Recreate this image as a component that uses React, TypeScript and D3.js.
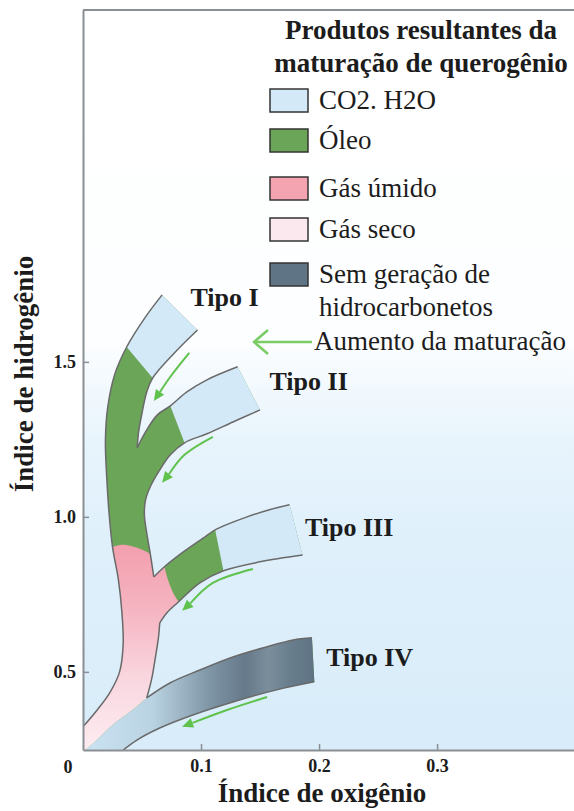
import React, { useEffect, useRef } from 'react'
import * as d3 from 'd3'

type Pt = [number, number] // [índice de oxigênio, índice de hidrogênio]

// band edges
const trunkOuter: Pt[] = [
  [0.067, 1.716], [0.053, 1.645], [0.037, 1.548], [0.027, 1.461], [0.021, 1.355],
  [0.019, 1.248], [0.020, 1.135], [0.022, 1.016], [0.025, 0.903], [0.030, 0.797],
  [0.033, 0.690], [0.034, 0.587], [0.031, 0.5], [0.023, 0.435], [0.012, 0.377], [0.0, 0.323],
]
const tipoIInner: Pt[] = [[0.097, 1.603], [0.079, 1.535], [0.059, 1.448], [0.054, 1.403], [0.05, 1.335], [0.047, 1.271], [0.046, 1.223]]
const tipoIIUpper: Pt[] = [[0.046, 1.223], [0.053, 1.274], [0.063, 1.329], [0.074, 1.358], [0.088, 1.403], [0.105, 1.442], [0.131, 1.484]]
const tipoIILower: Pt[] = [
  [0.15, 1.345], [0.127, 1.306], [0.105, 1.268], [0.086, 1.239], [0.074, 1.2], [0.064, 1.145],
  [0.057, 1.097], [0.053, 1.055], [0.052, 1.006], [0.054, 0.948], [0.057, 0.881], [0.06, 0.806],
]
const tipoIIIUpper: Pt[] = [[0.06, 0.806], [0.069, 0.839], [0.085, 0.887], [0.102, 0.932], [0.112, 0.958], [0.139, 1.0], [0.158, 1.023], [0.175, 1.039]]
const tipoIIILower: Pt[] = [[0.186, 0.877], [0.15, 0.855], [0.119, 0.826], [0.099, 0.787], [0.081, 0.726], [0.071, 0.69], [0.065, 0.658]]
const trunkInner: Pt[] = [[0.065, 0.658], [0.064, 0.613], [0.061, 0.539], [0.058, 0.474], [0.054, 0.416]]
const tipoIVUpper: Pt[] = [[0.054, 0.416], [0.074, 0.465], [0.099, 0.506], [0.127, 0.548], [0.156, 0.581], [0.178, 0.603], [0.194, 0.61]]
const tipoIVLower: Pt[] = [[0.196, 0.468], [0.164, 0.442], [0.127, 0.403], [0.093, 0.361], [0.065, 0.319], [0.046, 0.281], [0.034, 0.248]]

// boundaries between products
const wetGasTop: Pt[] = [[0.025, 0.903], [0.034, 0.91], [0.046, 0.9], [0.057, 0.881]]
const wetGasTipoIII: Pt[] = [[0.069, 0.839], [0.072, 0.797], [0.076, 0.758], [0.081, 0.726]]
const dryGasSplit: Pt[] = [[0.054, 0.416], [0.04, 0.371], [0.025, 0.329], [0.012, 0.281], [0.002, 0.248]]
const axisFloor: Pt[] = [[0.0, 0.248], [0.034, 0.248]]

// "aumento da maturação" arrows
const maturationPaths: Pt[][] = [
  [[0.09, 1.529], [0.074, 1.452], [0.06, 1.374]],
  [[0.11, 1.258], [0.086, 1.2], [0.067, 1.11]],
  [[0.144, 0.832], [0.11, 0.787], [0.084, 0.697]],
  [[0.156, 0.419], [0.122, 0.377], [0.084, 0.323]],
]

const tipoNames = ['Tipo I', 'Tipo II', 'Tipo III', 'Tipo IV']
const tipoAnchors: Pt[] = [[0.091, 1.681], [0.158, 1.41], [0.188, 0.939], [0.206, 0.519]]

const xTicks = [0.1, 0.2, 0.3]
const yTicks = [0.5, 1.0, 1.5]

const legendTitle = ['Produtos resultantes da', 'maturação de querogênio']
const legendItems = ['CO2. H2O', 'Óleo', 'Gás úmido', 'Gás seco', 'Sem geração de']
const legendItem2 = 'hidrocarbonetos'
const maturationLabel = 'Aumento da maturação'

const COL = {
  co2: '#d3e9f8',
  oil: '#6ba557',
  wet: '#f4a3b1',
  dry: '#fbe7ee',
  none: '#5f7585',
  edge: '#6a6a6a',
  arrow: '#5fc24c',
  axis: '#8a8f94',
  text: '#1c1c1c',
}
const legendColors = [COL.co2, COL.oil, COL.wet, COL.dry, COL.none]
const FONT = "'Liberation Serif', 'Times New Roman', serif"

const App = () => {
  const ref = useRef<SVGSVGElement>(null)

  useEffect(() => {
    const svg = d3.select(ref.current)
    svg.selectAll('*').remove()

    const x = d3.scaleLinear().domain([0, 0.416]).range([83, 574])
    const y = d3.scaleLinear().domain([0.248, 2.635]).range([750, 10])

    const smooth = d3.line<Pt>().x(d => x(d[0])).y(d => y(d[1])).curve(d3.curveCatmullRom.alpha(0.5))
    const join = (...parts: Pt[][]) =>
      parts.map((p, i) => { const s = smooth(p) || ''; return i ? s.replace(/^M/, 'L') : s }).join('') + 'Z'
    const rev = (a: Pt[]) => a.slice().reverse()

    const defs = svg.append('defs')
    const bg = defs.append('linearGradient').attr('id', 'bg').attr('gradientUnits', 'userSpaceOnUse')
      .attr('x1', 0).attr('y1', 10).attr('x2', 0).attr('y2', 750)
    ;[[0, '#ffffff'], [0.44, '#fdfeff'], [0.58, '#e8f4fc'], [0.72, '#dff0fb'], [1, '#d8ecf9']].forEach(([o, c]) =>
      bg.append('stop').attr('offset', o).attr('stop-color', c))
    const pink = defs.append('linearGradient').attr('id', 'pink').attr('gradientUnits', 'userSpaceOnUse')
      .attr('x1', 0).attr('y1', y(0.91)).attr('x2', 0).attr('y2', y(0.25))
    ;[[0, '#f39fae'], [0.3, '#f5b3c0'], [0.65, '#f9d6df'], [1, '#fdecf1']].forEach(([o, c]) =>
      pink.append('stop').attr('offset', o).attr('stop-color', c))
    const slate = defs.append('linearGradient').attr('id', 'slate').attr('gradientUnits', 'userSpaceOnUse')
      .attr('x1', x(0)).attr('y1', 0).attr('x2', x(0.196)).attr('y2', 0)
    ;[[0, '#cbe3f2'], [0.3, '#bad3e2'], [0.55, '#7e95a5'], [0.7, '#66798a'], [0.8, '#7a8e9c'], [0.9, '#687d8c'], [1, '#5e7283']]
      .forEach(([o, c]) => slate.append('stop').attr('offset', o).attr('stop-color', c))
    defs.append('clipPath').attr('id', 'plot').append('rect')
      .attr('x', 83).attr('y', 10).attr('width', 491).attr('height', 740)

    svg.append('rect').attr('x', 83).attr('y', 10).attr('width', 491).attr('height', 740).attr('fill', 'url(#bg)')

    const g = svg.append('g').attr('clip-path', 'url(#plot)')

    // whole kerogen path, oil colour underneath
    g.append('path').attr('fill', COL.oil).attr('d', join(
      trunkOuter, axisFloor, rev(tipoIVLower), rev(tipoIVUpper), rev(trunkInner), rev(tipoIIILower),
      rev(tipoIIIUpper), rev(tipoIILower), rev(tipoIIUpper), rev(tipoIInner)))

    // CO2, H2O at the start of each path
    g.append('path').attr('fill', COL.co2).attr('d', join(trunkOuter.slice(0, 3), rev(tipoIInner.slice(0, 3))))
    g.append('path').attr('fill', COL.co2).attr('d', join(tipoIIUpper.slice(3), tipoIILower.slice(0, 4)))
    g.append('path').attr('fill', COL.co2).attr('d', join(tipoIIIUpper.slice(4), tipoIIILower.slice(0, 3)))

    // gas
    g.append('path').attr('fill', 'url(#pink)').attr('d', join(
      wetGasTop, tipoIILower.slice(10), tipoIIIUpper.slice(0, 2), wetGasTipoIII, tipoIIILower.slice(4),
      trunkInner, dryGasSplit, axisFloor.slice(0, 1).concat([[0.0, 0.27]]), rev(trunkOuter.slice(8))))

    // tipo IV
    g.append('path').attr('fill', 'url(#slate)').attr('d', join(tipoIVUpper, tipoIVLower, rev(dryGasSplit)))

    ;[trunkOuter, tipoIInner, tipoIIUpper, tipoIILower, tipoIIIUpper, tipoIIILower, trunkInner, tipoIVUpper, tipoIVLower]
      .forEach(e => g.append('path').attr('d', smooth(e)).attr('fill', 'none')
        .attr('stroke', COL.edge).attr('stroke-width', 1.5))

    maturationPaths.forEach(pts => {
      const s = pts.map(p => [x(p[0]), y(p[1])] as [number, number])
      const [x1, y1] = s[s.length - 2]
      const [x2, y2] = s[s.length - 1]
      const len = Math.hypot(x2 - x1, y2 - y1)
      const ux = (x2 - x1) / len, uy = (y2 - y1) / len
      const bx = x2 - ux * 11, by = y2 - uy * 11
      const shaft = [...s.slice(0, -1), [bx, by] as [number, number]]
      g.append('path').attr('d', d3.line().curve(d3.curveCatmullRom)(shaft))
        .attr('fill', 'none').attr('stroke', COL.arrow).attr('stroke-width', 2)
      g.append('path').attr('fill', COL.arrow)
        .attr('d', `M${x2},${y2}L${bx - uy * 5},${by + ux * 5}L${bx + uy * 5},${by - ux * 5}Z`)
    })

    // axes
    const styleAxis = sel => {
      sel.attr('font-family', FONT).attr('font-size', 18).attr('font-weight', 'bold')
      sel.select('.domain').attr('stroke', COL.axis).attr('stroke-width', 2)
      sel.selectAll('.tick line').attr('stroke', COL.axis).attr('stroke-width', 1.5)
      sel.selectAll('.tick text').attr('fill', COL.text)
    }
    svg.append('g').attr('transform', 'translate(83,0)')
      .call(d3.axisLeft(y).tickValues(yTicks).tickSize(-6).tickSizeOuter(0).tickPadding(7).tickFormat(d3.format('.1f')))
      .call(styleAxis)
    svg.append('g').attr('transform', 'translate(0,750)')
      .call(d3.axisBottom(x).tickValues(xTicks).tickSize(-6).tickSizeOuter(0).tickPadding(9).tickFormat(d3.format('.1f')))
      .call(styleAxis)
    svg.append('line').attr('x1', 83).attr('x2', 574).attr('y1', 10).attr('y2', 10)
      .attr('stroke', COL.axis).attr('stroke-width', 2)
    svg.append('text').text('0').attr('x', x(0) - 15).attr('y', 773).attr('text-anchor', 'middle')
      .attr('font-family', FONT).attr('font-size', 18).attr('font-weight', 'bold').attr('fill', COL.text)

    svg.append('text').text('Índice de oxigênio').attr('x', 322).attr('y', 802).attr('text-anchor', 'middle')
      .attr('font-family', FONT).attr('font-size', 27).attr('font-weight', 'bold').attr('fill', COL.text)
    svg.append('text').text('Índice de hidrogênio').attr('transform', 'translate(33,374) rotate(-90)')
      .attr('text-anchor', 'middle')
      .attr('font-family', FONT).attr('font-size', 27).attr('font-weight', 'bold').attr('fill', COL.text)

    tipoNames.forEach((t, i) => {
      svg.append('text').text(t).attr('x', x(tipoAnchors[i][0])).attr('y', y(tipoAnchors[i][1]))
        .attr('font-family', FONT).attr('font-size', 26).attr('font-weight', 'bold').attr('fill', COL.text)
    })

    // legend
    const lg = svg.append('g').attr('font-family', FONT).attr('fill', COL.text)
    legendTitle.forEach((t, i) => lg.append('text').text(t).attr('x', 421).attr('y', 39 + i * 33)
      .attr('text-anchor', 'middle').attr('font-size', 27).attr('font-weight', 'bold'))
    const rowTop = [89, 129, 177, 218, 263]
    legendItems.forEach((t, i) => {
      lg.append('rect').attr('x', 270).attr('y', rowTop[i]).attr('width', 38).attr('height', 23)
        .attr('fill', legendColors[i]).attr('stroke', '#333').attr('stroke-width', 1.5)
      lg.append('text').text(t).attr('x', 319).attr('y', rowTop[i] + 20).attr('font-size', 27)
    })
    lg.append('text').text(legendItem2).attr('x', 319).attr('y', 316).attr('font-size', 27)
    lg.append('line').attr('x1', 255).attr('x2', 312).attr('y1', 342).attr('y2', 342)
      .attr('stroke', '#7acc65').attr('stroke-width', 2.5)
    lg.append('path').attr('d', 'M268,330L254,342L268,354').attr('fill', 'none')
      .attr('stroke', '#7acc65').attr('stroke-width', 2.5)
    lg.append('text').text(maturationLabel).attr('x', 314).attr('y', 350).attr('font-size', 27)
  }, [])

  return <svg ref={ref} width={574} height={811} style={{ position: 'absolute', left: 0, top: 0, display: 'block' }} />
}

export default App
